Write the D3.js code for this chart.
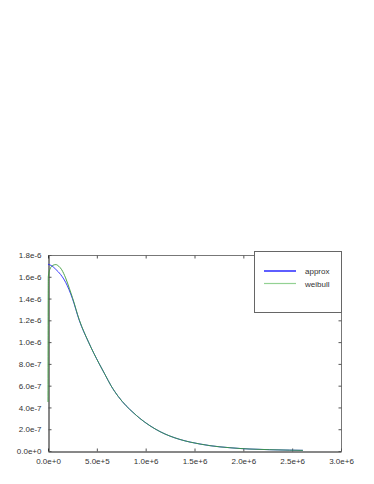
<!DOCTYPE html>
<html><head><meta charset="utf-8">
<script src="https://cdn.jsdelivr.net/npm/d3@7"></script>
<style>
html,body{margin:0;padding:0;background:#fff;}
svg{display:block;}
text{font-family:"Liberation Sans",Arial,sans-serif;}
</style></head>
<body>
<script>
const approxX = [0, 4e4, 8e4, 1.3e5, 1.8e5, 2.5e5, 3.2e5, 4.15e5, 5.25e5, 5.85e5, 6.45e5, 7.2e5, 8.0e5, 8.7e5, 9.4e5, 1.044e6, 1.147e6, 1.249e6, 1.351e6, 1.454e6, 1.556e6, 1.659e6, 1.761e6, 1.863e6, 1.966e6, 2.068e6, 2.27e6, 2.47e6, 2.61e6];
const approxY = [1.715e-6, 1.70e-6, 1.668e-6, 1.62e-6, 1.55e-6, 1.40e-6, 1.20e-6, 1.00e-6, 0.80e-6, 0.70e-6, 0.60e-6, 0.50e-6, 0.415e-6, 0.355e-6, 0.300e-6, 0.232e-6, 0.178e-6, 0.137e-6, 0.106e-6, 0.082e-6, 0.064e-6, 0.049e-6, 0.038e-6, 0.030e-6, 0.023e-6, 0.018e-6, 0.012e-6, 0.008e-6, 0.006e-6];
const weibullX = [0, 3e3, 2e4, 5e4, 8e4, 1.1e5, 1.4e5, 1.8e5, 2.2e5, 2.5e5, 3.2e5, 4.15e5, 5.25e5, 5.85e5, 6.45e5, 7.2e5, 8.0e5, 8.7e5, 9.4e5, 1.044e6, 1.147e6, 1.249e6, 1.351e6, 1.454e6, 1.556e6, 1.659e6, 1.761e6, 1.863e6, 1.966e6, 2.068e6, 2.27e6, 2.47e6, 2.61e6];
const weibullY = [0.45e-6, 1.60e-6, 1.67e-6, 1.705e-6, 1.712e-6, 1.697e-6, 1.665e-6, 1.59e-6, 1.49e-6, 1.41e-6, 1.205e-6, 1.00e-6, 0.80e-6, 0.70e-6, 0.60e-6, 0.50e-6, 0.415e-6, 0.355e-6, 0.300e-6, 0.232e-6, 0.178e-6, 0.137e-6, 0.106e-6, 0.082e-6, 0.064e-6, 0.049e-6, 0.038e-6, 0.030e-6, 0.023e-6, 0.018e-6, 0.012e-6, 0.008e-6, 0.006e-6];
const xTicks = [0, 5e5, 1e6, 1.5e6, 2e6, 2.5e6, 3e6];
const xTickLabels = ["0.0e+0", "5.0e+5", "1.0e+6", "1.5e+6", "2.0e+6", "2.5e+6", "3.0e+6"];
const yTicks = [0, 2e-7, 4e-7, 6e-7, 8e-7, 1e-6, 1.2e-6, 1.4e-6, 1.6e-6, 1.8e-6];
const yTickLabels = ["0.0e+0", "2.0e-7", "4.0e-7", "6.0e-7", "8.0e-7", "1.0e-6", "1.2e-6", "1.4e-6", "1.6e-6", "1.8e-6"];
const seriesNames = ["approx", "weibull"];
const seriesColors = ["#2828ff", "#3a9a3a"];
const legendColors = ["#2828ff", "#93d193"];

const W = 374, H = 484;
const L = 48, R = 341, T = 255, B = 451;
const svg = d3.select("body").append("svg").attr("width", W).attr("height", H);
const x = d3.scaleLinear().domain([0, 3e6]).range([L, R]);
const y = d3.scaleLinear().domain([0, 1.8e-6]).range([B, T]);

svg.append("line").attr("x1", L).attr("x2", R).attr("y1", T + 0.5).attr("y2", T + 0.5).attr("stroke", "#777");
svg.append("line").attr("x1", R + 0.5).attr("x2", R + 0.5).attr("y1", T).attr("y2", B).attr("stroke", "#777");

const xAxis = d3.axisBottom(x).tickValues(xTicks).tickFormat((d, i) => xTickLabels[i]).tickSizeInner(-3).tickSizeOuter(0).tickPadding(7);
const gx = svg.append("g").attr("transform", `translate(0,${B + 0.5})`).call(xAxis);
const xTop = d3.axisTop(x).tickValues(xTicks).tickFormat("").tickSizeInner(-3).tickSizeOuter(0);
const gxt = svg.append("g").attr("transform", `translate(0,${T + 0.5})`).call(xTop);
gxt.select(".domain").remove();
const yAxis = d3.axisLeft(y).tickValues(yTicks).tickFormat((d, i) => yTickLabels[i]).tickSizeInner(-3).tickSizeOuter(0).tickPadding(7);
const gy = svg.append("g").attr("transform", `translate(${L + 0.5},0)`).call(yAxis);
const yRight = d3.axisRight(y).tickValues(yTicks).tickFormat("").tickSizeInner(-3).tickSizeOuter(0);
const gyr = svg.append("g").attr("transform", `translate(${R + 0.5},0)`).call(yRight);
gyr.select(".domain").remove();
[gx, gy].forEach(g => {
  g.select(".domain").attr("stroke", "#111");
  g.selectAll(".tick line").attr("stroke", "#555");
  g.selectAll(".tick text").attr("fill", "#333").style("font-size", "8px").style("font-family", "Liberation Sans, Arial, sans-serif");
});
[gxt, gyr].forEach(g => g.selectAll(".tick line").attr("stroke", "#555"));

const line = d3.line().x(d => x(d[0])).y(d => y(d[1])).curve(d3.curveMonotoneX);
const approxData = approxX.map((v, i) => [v, approxY[i]]);
const weibullData = weibullX.map((v, i) => [v, weibullY[i]]);
svg.append("path").datum(approxData).attr("d", line).attr("fill", "none").attr("stroke", seriesColors[0]).attr("stroke-width", 0.9);
svg.append("path").datum(weibullData).attr("d", line).attr("fill", "none").attr("stroke", seriesColors[1]).attr("stroke-width", 0.9);

const lg = svg.append("g");
lg.append("rect").attr("x", 254.5).attr("y", 251.5).attr("width", 87).attr("height", 61).attr("fill", "#fff").attr("stroke", "#666");
seriesNames.forEach((n, i) => {
  const yy = 271 + i * 12.5;
  lg.append("line").attr("x1", 264).attr("x2", 296).attr("y1", yy).attr("y2", yy)
    .attr("stroke", legendColors[i]).attr("stroke-width", i === 0 ? 1.5 : 1.2);
  lg.append("text").attr("x", 305).attr("y", yy + 3).text(n).attr("fill", "#333").style("font-size", "8px");
});
</script>
</body></html>
